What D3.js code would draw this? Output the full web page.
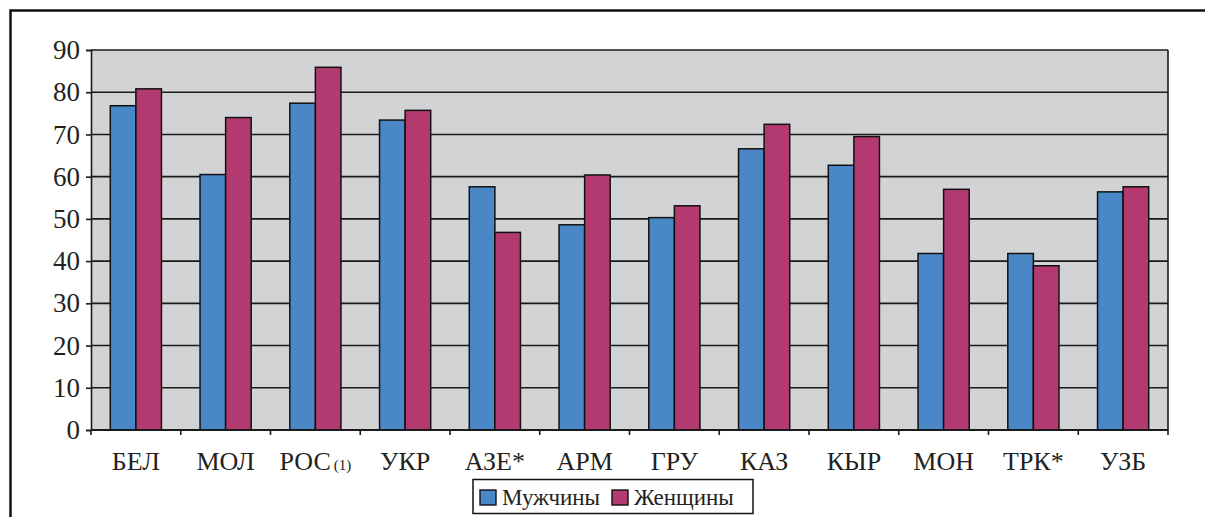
<!DOCTYPE html>
<html lang="ru">
<head>
<meta charset="UTF-8">
<title>Мужчины / Женщины</title>
<script src="https://d3js.org/d3.v7.min.js"></script>
<style>
    html, body { margin: 0; padding: 0; overflow: hidden; background: #fff; }
    svg { display: block; }
    svg text { font-family: "Liberation Serif", "Times New Roman", "DejaVu Serif", serif; fill: #231f20; }
</style>
</head>
<body>
<svg id="chart" width="1205" height="517"></svg>
<script>
const categories = ["БЕЛ", "МОЛ", "РОС", "УКР", "АЗЕ*", "АРМ", "ГРУ", "КАЗ", "КЫР", "МОН", "ТРК*", "УЗБ"];
const seriesNames = ["Мужчины", "Женщины"];
const men   = [76.8, 60.5, 77.4, 73.4, 57.6, 48.6, 50.3, 66.6, 62.7, 41.8, 41.8, 56.4];
const women = [80.8, 74.0, 85.9, 75.7, 46.8, 60.4, 53.1, 72.4, 69.5, 57.0, 38.9, 57.6];
const yTicks = [0, 10, 20, 30, 40, 50, 60, 70, 80, 90];

const colors = { "Мужчины": "#4a87c7", "Женщины": "#b33a71" };
const serif = "'Liberation Serif', 'Times New Roman', 'DejaVu Serif', serif";

const W = 1205, H = 517;
const plot = { left: 91, right: 1168, top: 50, bottom: 430 };

const svg = d3.select("#chart");

// outer frame: only its top and left edges fall inside the picture
svg.append("path")
    .attr("d", `M10.5,${H} V10.5 H${W}`)
    .attr("fill", "none").attr("stroke", "#111").attr("stroke-width", 2.5);

const x0 = d3.scaleBand().domain(categories).range([plot.left, plot.right]).padding(0);
const bw = x0.bandwidth();
const groupW = bw * 0.57;
const x1 = d3.scaleBand().domain(seriesNames).range([(bw - groupW) / 2, (bw + groupW) / 2]).padding(0);
const y = d3.scaleLinear().domain([0, 90]).range([plot.bottom, plot.top]);

// plot background
svg.append("rect")
    .attr("x", plot.left).attr("y", plot.top)
    .attr("width", plot.right - plot.left).attr("height", plot.bottom - plot.top)
    .attr("fill", "#d2d3d5");

// gridlines
svg.append("g")
    .selectAll("line")
    .data(yTicks.filter(d => d > 0))
    .join("line")
    .attr("x1", plot.left).attr("x2", plot.right)
    .attr("y1", d => y(d)).attr("y2", d => y(d))
    .attr("stroke", "#1a1a1a").attr("stroke-width", 1.6);

// right edge of plot area
svg.append("line")
    .attr("x1", plot.right).attr("x2", plot.right)
    .attr("y1", plot.top).attr("y2", plot.bottom)
    .attr("stroke", "#1a1a1a").attr("stroke-width", 1.6);

// bars
const rows = categories.map((c, i) => ({ cat: c, vals: [
    { key: "Мужчины", value: men[i] },
    { key: "Женщины", value: women[i] }
]}));

svg.append("g")
    .selectAll("g")
    .data(rows)
    .join("g")
    .attr("transform", d => `translate(${x0(d.cat)},0)`)
    .selectAll("rect")
    .data(d => d.vals)
    .join("rect")
    .attr("x", d => x1(d.key))
    .attr("y", d => y(d.value))
    .attr("width", x1.bandwidth())
    .attr("height", d => y(0) - y(d.value))
    .attr("fill", d => colors[d.key])
    .attr("stroke", "#111")
    .attr("stroke-width", 1.5);

// y axis
const yAxis = svg.append("g")
    .attr("transform", `translate(${plot.left},0)`)
    .call(d3.axisLeft(y).tickValues(yTicks).tickSize(5).tickPadding(6))
    .attr("font-family", serif);
yAxis.select(".domain").attr("stroke", "#1a1a1a").attr("stroke-width", 1.6);
yAxis.selectAll(".tick line").attr("stroke", "#1a1a1a").attr("stroke-width", 1.6);
yAxis.selectAll(".tick text")
    .attr("font-size", 27)
    .attr("fill", "#231f20");

// x axis: ticks at band boundaries
const xAxisG = svg.append("g").attr("font-family", serif);
xAxisG.append("line")
    .attr("x1", plot.left).attr("x2", plot.right)
    .attr("y1", plot.bottom).attr("y2", plot.bottom)
    .attr("stroke", "#1a1a1a").attr("stroke-width", 1.8);
const bounds = categories.map(c => x0(c)).concat([plot.right]);
xAxisG.selectAll("line.tk")
    .data(bounds)
    .join("line")
    .attr("class", "tk")
    .attr("x1", d => d).attr("x2", d => d)
    .attr("y1", plot.bottom).attr("y2", plot.bottom + 5)
    .attr("stroke", "#1a1a1a").attr("stroke-width", 1.6);

const labels = xAxisG.selectAll("text.lbl")
    .data(categories)
    .join("text")
    .attr("class", "lbl")
    .attr("x", d => x0(d) + bw / 2)
    .attr("y", 470)
    .attr("text-anchor", "middle")
    .attr("font-size", 26);
labels.append("tspan").text(d => d);
labels.filter(d => d === "РОС").append("tspan")
    .attr("font-size", 15)
    .attr("dx", 3)
    .text("(1)");

// legend
const legend = svg.append("g").attr("font-family", serif);
legend.append("rect")
    .attr("x", 473).attr("y", 479.5)
    .attr("width", 280).attr("height", 34)
    .attr("fill", "#fff").attr("stroke", "#111").attr("stroke-width", 1.5);
const legendX = [480, 612];
const items = legend.selectAll("g.item")
    .data(seriesNames)
    .join("g")
    .attr("class", "item")
    .attr("transform", (d, i) => `translate(${legendX[i]},490)`);
items.append("rect")
    .attr("width", 16).attr("height", 15)
    .attr("fill", d => colors[d])
    .attr("stroke", "#111").attr("stroke-width", 1.4);
items.append("text")
    .attr("x", 22).attr("y", 15)
    .attr("font-size", 23)
    .text(d => d);
</script>
</body>
</html>
